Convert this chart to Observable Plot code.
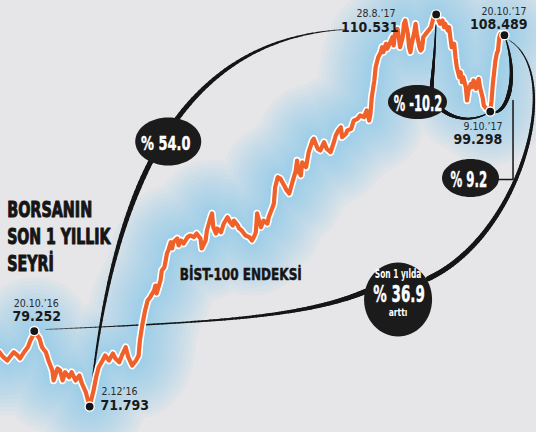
<!DOCTYPE html>
<html><head><meta charset="utf-8">
<script src="https://cdn.jsdelivr.net/npm/d3@7"></script>
<script src="https://cdn.jsdelivr.net/npm/@observablehq/plot@0.6"></script>
<style>html,body{margin:0;padding:0;background:#e6e6e8;overflow:hidden}</style>
</head><body><div id="chart"></div>
<script>
// ---- DATA (BIST-100, last year) ----
const dates = ["2016-09-23","2016-09-26","2016-09-29","2016-10-02","2016-10-04","2016-10-07","2016-10-09","2016-10-12","2016-10-15","2016-10-17","2016-10-19","2016-10-20","2016-10-24","2016-10-26","2016-10-29","2016-10-31","2016-11-03","2016-11-04","2016-11-07","2016-11-09","2016-11-11","2016-11-13","2016-11-16","2016-11-18","2016-11-21","2016-11-24","2016-11-26","2016-11-29","2016-12-02","2016-12-05","2016-12-07","2016-12-09","2016-12-12","2016-12-14","2016-12-17","2016-12-20","2016-12-22","2016-12-25","2016-12-27","2016-12-30","2017-01-01","2017-01-04","2017-01-07","2017-01-09","2017-01-10","2017-01-12","2017-01-14","2017-01-16","2017-01-18","2017-01-21","2017-01-22","2017-01-23","2017-01-26","2017-01-27","2017-01-29","2017-01-30","2017-01-31","2017-02-01","2017-02-03","2017-02-04","2017-02-05","2017-02-08","2017-02-09","2017-02-11","2017-02-13","2017-02-16","2017-02-18","2017-02-21","2017-02-23","2017-02-26","2017-02-27","2017-03-02","2017-03-03","2017-03-06","2017-03-07","2017-03-08","2017-03-10","2017-03-11","2017-03-14","2017-03-16","2017-03-19","2017-03-21","2017-03-23","2017-03-24","2017-03-27","2017-03-28","2017-03-30","2017-04-02","2017-04-05","2017-04-07","2017-04-08","2017-04-10","2017-04-11","2017-04-14","2017-04-16","2017-04-19","2017-04-20","2017-04-23","2017-04-24","2017-04-25","2017-04-27","2017-04-29","2017-05-02","2017-05-04","2017-05-06","2017-05-08","2017-05-11","2017-05-12","2017-05-13","2017-05-15","2017-05-16","2017-05-19","2017-05-21","2017-05-24","2017-05-25","2017-05-28","2017-05-30","2017-06-02","2017-06-04","2017-06-07","2017-06-10","2017-06-11","2017-06-13","2017-06-15","2017-06-16","2017-06-19","2017-06-20","2017-06-23","2017-06-25","2017-06-28","2017-06-30","2017-07-03","2017-07-04","2017-07-05","2017-07-07","2017-07-08","2017-07-09","2017-07-11","2017-07-12","2017-07-14","2017-07-16","2017-07-17","2017-07-18","2017-07-20","2017-07-21","2017-07-24","2017-07-25","2017-07-26","2017-07-27","2017-07-29","2017-07-30","2017-07-31","2017-08-02","2017-08-03","2017-08-04","2017-08-06","2017-08-07","2017-08-08","2017-08-09","2017-08-11","2017-08-12","2017-08-13","2017-08-15","2017-08-16","2017-08-17","2017-08-18","2017-08-20","2017-08-22","2017-08-24","2017-08-25","2017-08-26","2017-08-28","2017-08-31","2017-09-02","2017-09-03","2017-09-04","2017-09-06","2017-09-07","2017-09-08","2017-09-09","2017-09-11","2017-09-12","2017-09-13","2017-09-15","2017-09-16","2017-09-17","2017-09-18","2017-09-20","2017-09-21","2017-09-22","2017-09-24","2017-09-25","2017-09-26","2017-09-28","2017-09-29","2017-09-30","2017-10-01","2017-10-03","2017-10-04","2017-10-06","2017-10-09","2017-10-10","2017-10-11","2017-10-12","2017-10-13","2017-10-14","2017-10-15","2017-10-16","2017-10-17","2017-10-18","2017-10-19","2017-10-20"];
const values = [77.16,76.67,76.34,76.84,77.16,76.84,76.54,77.16,77.66,78.32,78.81,79.252,78.52,77.66,77.16,76.34,75.36,74.37,75.55,75.36,74.37,75.19,74.69,75.19,74.37,74.86,74.07,73.21,71.793,73.38,74.69,75.68,76.34,76.84,76.34,77.03,76.54,76.17,76.84,77.66,76.67,75.85,76.34,76.84,78.32,79.97,81.28,82.27,82.60,83.26,83.75,82.96,84.25,85.24,85.56,86.22,86.92,87.21,88.03,87.41,88.03,88.40,87.71,88.20,87.90,88.53,88.69,88.53,88.89,88.40,87.41,88.20,89.19,90.50,90.87,89.51,88.89,89.39,89.02,89.85,90.50,90.01,89.68,90.17,89.68,89.39,89.19,88.69,88.53,88.20,88.40,89.02,90.87,89.51,90.17,89.88,90.50,91.49,91.85,93.46,94.45,94.32,93.63,93.14,92.84,93.80,95.11,96.10,95.11,94.62,95.93,95.44,96.92,98.08,98.25,97.26,97.09,97.91,97.26,96.92,98.08,98.57,99.07,99.39,98.40,98.74,99.07,99.23,100.05,100.22,100.55,100.38,100.72,101.04,100.05,100.72,102.36,104.01,105.32,106.31,106.80,107.30,106.80,107.63,107.14,107.96,108.28,107.46,108.62,109.11,108.28,107.30,108.28,109.61,109.93,108.62,107.30,106.80,107.63,108.78,109.61,108.62,107.30,106.97,107.14,108.28,108.62,108.95,109.27,109.77,110.26,110.531,109.61,109.93,109.27,109.61,108.95,109.27,108.28,107.30,107.63,106.31,105.32,104.33,104.82,103.84,104.33,103.35,102.03,103.02,103.68,103.35,104.01,103.19,103.68,104.17,103.35,102.36,101.53,101.21,100.94,102.03,103.68,104.82,105.98,106.64,106.97,108.28,108.62,108.45,108.62,108.489];

const keyDates = ["2016-10-20","2016-12-02","2017-08-28","2017-10-09","2017-10-20"];
const keyDateLabels = ["20.10.’16","2.12’16","28.8.’17","9.10.’17","20.10.’17"];
const keyValueLabels = ["79.252","71.793","110.531","99.298","108.489"];
const changeLabels = ["% 54.0","% -10.2","% 9.2","% 36.9"];
const titleLines = ["BORSANIN","SON 1 YILLIK","SEYRİ"];
const seriesName = "BİST-100 ENDEKSİ";
const yearNote = ["Son 1 yılda","arttı"];

// ---- build ----
const series = dates.map((d,i)=>({date:new Date(d), value:values[i]}));
const keyPts = keyDates.map((d,i)=>{const s=series.find(p=>+p.date===+new Date(d)); return {...s, dl:keyDateLabels[i], vl:keyValueLabels[i]};});

const NARROW = "'Liberation Sans Narrow','Arial Narrow','DejaVu Sans Condensed',sans-serif";
const INK = "#161515";

// annotation geometry (in data space)
const connectors = [
  {pts:[["2016-12-02",71.793],["2016-12-18",92.15],["2017-02-04",108.16],["2017-06-19",109.05]], w:[1,3.2,5.2,4.8,2.8,0.5]},
  {pts:[["2016-10-29",79.41],["2017-02-26",80.10],["2017-05-15",80.49],["2017-07-04",83.16]], w:[0.5,1.6,3.2,5.2]},
  {pts:[["2017-08-22",84.44],["2017-11-01T12:00Z",88.69],["2017-12-06",104.50],["2017-10-24",107.96]], w:[5.2,4.6,3.5,2,0.6]},
  {pts:[["2017-08-28",110.531],["2017-08-27T12:00Z",107.46],["2017-08-25T12:00Z",104.99],["2017-08-24T10:00Z",103.22]], w:[0.6,3.8]},
  {pts:[["2017-08-31T10:00Z",101.24],["2017-09-12",99.96],["2017-09-27T12:00Z",99.96],["2017-10-09",100.94]], w:[4,2,0.8]},
  {pts:[["2017-10-09",100.94],["2017-10-20T19:00Z",100.25],["2017-11-01T12:00Z",104.01],["2017-10-20",108.489]], w:[0.8,3,4,3,0.8]}
];
function bez(p,t){const u=1-t;return u*u*u*p[0]+3*u*u*t*p[1]+3*u*t*t*p[2]+t*t*t*p[3];}
function wAt(ws,t){const n=ws.length-1,f=t*n,i=Math.min(n-1,Math.floor(f)),r=f-i;return ws[i]*(1-r)+ws[i+1]*r;}
const segs=[];
connectors.forEach(c=>{
  const xs=c.pts.map(p=>+new Date(p[0])), ys=c.pts.map(p=>p[1]); const N=90;
  let px=bez(xs,0), py=bez(ys,0);
  for(let k=1;k<=N;k++){const t=k/N,cx=bez(xs,t),cy=bez(ys,t);
    segs.push({x1:new Date(px),y1:py,x2:new Date(cx),y2:cy,w:wAt(c.w,(k-0.5)/N)}); px=cx; py=cy;}
});
const elbow=[["2017-10-26T16:00Z",102.03],["2017-10-26T16:00Z",94.23],["2017-10-15T10:00Z",94.23]];

function ellipseSym(aspect){return {draw(ctx,size){const ry=Math.sqrt(size/Math.PI),rx=ry*aspect,k=0.5523;
  ctx.moveTo(rx,0);ctx.bezierCurveTo(rx,k*ry,k*rx,ry,0,ry);ctx.bezierCurveTo(-k*rx,ry,-rx,k*ry,-rx,0);
  ctx.bezierCurveTo(-rx,-k*ry,-k*rx,-ry,0,-ry);ctx.bezierCurveTo(k*rx,-ry,rx,-k*ry,rx,0);ctx.closePath();}};}
const bubbles=[
  {x:"2017-02-01",y:97.98,rx:33,ry:24,label:changeLabels[0],fs:18.6,dx:-2.5,dy:9},
  {x:"2017-08-13T12:00Z",y:101.88,rx:29.5,ry:17,label:changeLabels[1],fs:20.5,dx:0.5,dy:8.5},
  {x:"2017-09-23T16:00Z",y:94.37,rx:28.5,ry:19,label:changeLabels[2],fs:20.5,dx:-1.7,dy:9.2},
  {x:"2017-07-29T10:00Z",y:82.37,rx:34,ry:37,label:changeLabels[3],fs:23,dx:1,dy:2.7}
];

// soft glow: stacked translucent strokes on a smoothed path
const glowWidths=[112,104,96,88,80,72,64,57,50,43,37,31,25,20,15,11];
const marks=glowWidths.map(w=>Plot.line(series,{x:"date",y:"value",curve:"basis",stroke:"#8ac8ec",strokeOpacity:0.075,strokeWidth:w,strokeLinejoin:"round",strokeLinecap:"round"}));
marks.push(
  Plot.link(segs,{x1:"x1",y1:"y1",x2:"x2",y2:"y2",strokeWidth:"w",stroke:INK,strokeLinecap:"round"}),
  Plot.line(elbow,{x:d=>new Date(d[0]),y:d=>d[1],stroke:INK,strokeWidth:1.5}),
  Plot.line(series,{x:"date",y:"value",stroke:"#ffffff",strokeWidth:7.5,strokeLinejoin:"round",strokeLinecap:"round"}),
  Plot.line(series,{x:"date",y:"value",stroke:"#f0602a",strokeWidth:4.2,strokeLinejoin:"round",strokeLinecap:"round"}),
  Plot.dot(keyPts,{x:"date",y:"value",r:4.6,fill:INK,stroke:"#fff",strokeWidth:1.4})
);
bubbles.forEach(b=>{
  marks.push(Plot.dot([b],{x:d=>new Date(d.x),y:"y",r:b.ry,symbol:ellipseSym(b.rx/b.ry),fill:"#1c1b1b"}));
  marks.push(Plot.text([b],{x:d=>new Date(d.x),y:"y",text:"label",dx:b.dx,dy:b.dy,fill:"#fff",stroke:"#fff",strokeWidth:0.4,fontSize:b.fs,fontWeight:"bold",fontFamily:NARROW,textAnchor:"middle",lineAnchor:"bottom"}));
});
const b369=bubbles[3];
marks.push(Plot.text([b369],{x:d=>new Date(d.x),y:"y",text:()=>yearNote[0],dx:0,dy:-21,fill:"#fff",fontSize:11.5,fontWeight:"bold",fontFamily:NARROW,textAnchor:"middle",lineAnchor:"bottom"}));
marks.push(Plot.text([b369],{x:d=>new Date(d.x),y:"y",text:()=>yearNote[1],dx:0,dy:16.5,fill:"#fff",fontSize:10.5,fontWeight:"bold",fontFamily:NARROW,textAnchor:"middle",lineAnchor:"bottom"}));

// key point labels (offsets relative to points)
const lay=[
  {d:[2,-24,"middle"],v:[2.5,-10,"middle"]},
  {d:[11.8,-11.7,"start"],v:[10.8,3,"start"]},
  {d:[-40.7,3,"end"],v:[-37.7,17.4,"end"]},
  {d:[12.2,18,"end"],v:[11.9,32.4,"end"]},
  {d:[22,-20.5,"end"],v:[23,-6.1,"end"]}
];
keyPts.forEach((p,i)=>{
  const L=lay[i];
  marks.push(Plot.text([p],{x:"date",y:"value",text:"dl",dx:L.d[0],dy:L.d[1],textAnchor:L.d[2],lineAnchor:"bottom",fontSize:10.5,fontFamily:NARROW,fill:"#2a2a2a"}));
  marks.push(Plot.text([p],{x:"date",y:"value",text:"vl",dx:L.v[0],dy:L.v[1],textAnchor:L.v[2],lineAnchor:"bottom",fontSize:14,fontWeight:"bold",fontFamily:NARROW,fill:"#1a1a1a"}));
});
// series name
marks.push(Plot.text([seriesName],{x:()=>new Date("2017-02-10"),y:()=>84.25,text:d=>d,textAnchor:"start",lineAnchor:"bottom",fontSize:16,fontWeight:"bold",fontFamily:NARROW,fill:INK,stroke:INK,strokeWidth:0.5}));
// title
const titleBase=[216.7,243.3,270];
titleLines.forEach((t,i)=>marks.push(Plot.text([t],{frameAnchor:"top-left",text:d=>d,dx:6.7,dy:titleBase[i],textAnchor:"start",lineAnchor:"bottom",fontSize:21,fontWeight:"bold",fontFamily:NARROW,fill:INK,stroke:INK,strokeWidth:1})));

const svg=Plot.plot({
  width:536,height:432,margin:0,
  x:{type:"utc",domain:[new Date("2016-09-23T18:38Z"),new Date("2017-11-13T21:22Z")],axis:null},
  y:{domain:[69.23,111.91],axis:null},
  style:{background:"#e6e6e8",fontFamily:NARROW,overflow:"hidden"},
  marks
});
document.getElementById("chart").appendChild(svg);

// condensed display widths
const widths={"BORSANIN":85,"SON 1 YILLIK":103.3,"SEYRİ":46.6,"BİST-100 ENDEKSİ":122,"% 54.0":49.3,"% -10.2":48.4,"% 9.2":36.7,"% 36.9":51.4,"Son 1 yılda":46.5,"arttı":18.8};
svg.querySelectorAll("text").forEach(t=>{const w=widths[t.textContent]; if(w){t.setAttribute("textLength",w);t.setAttribute("lengthAdjust","spacingAndGlyphs");}});
</script></body></html>
